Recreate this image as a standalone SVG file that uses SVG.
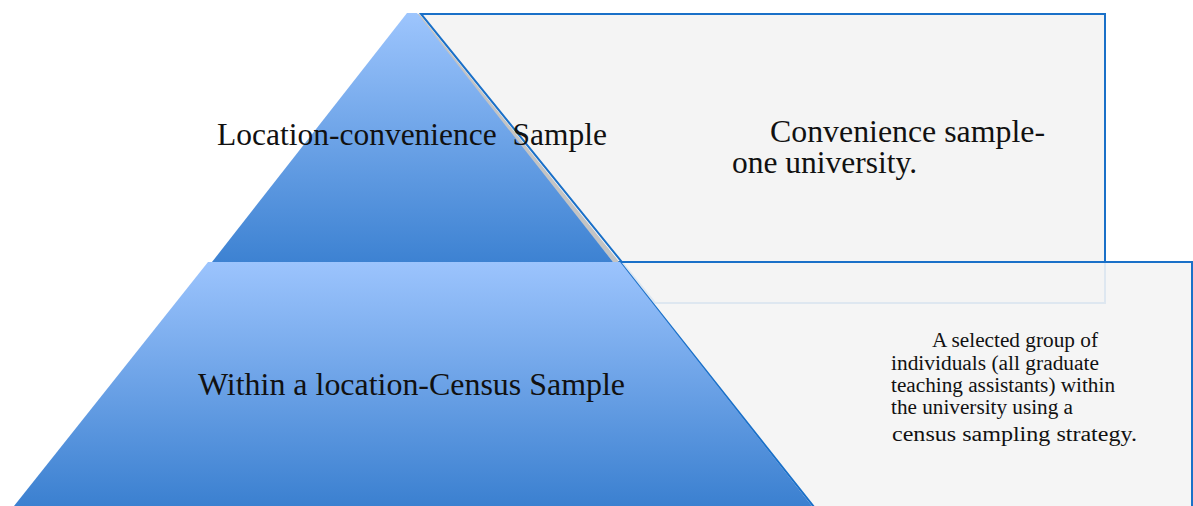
<svg xmlns="http://www.w3.org/2000/svg" width="1193" height="506" viewBox="0 0 1193 506">
  <style>
    .box { fill: #f4f4f4; stroke: #1a70c8; stroke-width: 2; }
    .big { font-family: "Liberation Serif", "Times New Roman", serif; font-size: 31px; fill: #111; }
    .small { font-family: "Liberation Serif", "Times New Roman", serif; font-size: 20px; fill: #111; }
  </style>
  <defs>
    <linearGradient id="gTop" x1="0" y1="13" x2="0" y2="262" gradientUnits="userSpaceOnUse">
      <stop offset="0" stop-color="#9dc5fd"/>
      <stop offset="1" stop-color="#3d82d2"/>
    </linearGradient>
    <linearGradient id="gBottom" x1="0" y1="262" x2="0" y2="506" gradientUnits="userSpaceOnUse">
      <stop offset="0" stop-color="#9cc4fd"/>
      <stop offset="1" stop-color="#3b80d0"/>
    </linearGradient>
  </defs>
  <rect width="1193" height="506" fill="#ffffff"/>

  <!-- description panel for the upper tier -->
  <g id="top-panel">
    <line x1="417" y1="15" x2="617" y2="263" stroke="#c4c4c4" stroke-width="5"/>
    <polygon class="box" points="421,14 1105,14 1105,303 655,303"/>
    <text class="big" x="770" y="142" textLength="275" lengthAdjust="spacingAndGlyphs">Convenience sample-</text>
    <text class="big" x="732" y="173" textLength="185" lengthAdjust="spacingAndGlyphs">one university.</text>
  </g>

  <!-- description panel for the lower tier -->
  <g id="bottom-panel">
    <polygon class="box" points="620,262 1192,262 1192,512 818,512" fill-opacity="0.9"/>
    <text class="small" x="932" y="347" textLength="166" lengthAdjust="spacingAndGlyphs">A selected group of</text>
    <text class="small" x="891" y="370" textLength="208" lengthAdjust="spacingAndGlyphs">individuals (all graduate</text>
    <text class="small" x="891" y="392" textLength="224" lengthAdjust="spacingAndGlyphs">teaching assistants) within</text>
    <text class="small" x="891" y="414" textLength="182" lengthAdjust="spacingAndGlyphs">the university using a</text>
    <text class="small" x="892" y="441" font-size="24" textLength="245" lengthAdjust="spacingAndGlyphs">census sampling strategy.</text>
  </g>

  <!-- pyramid tiers -->
  <g id="tier-top">
    <polygon points="407,13 417,13 613,262 212,262" fill="url(#gTop)"/>
    <text class="big" x="217" y="145" textLength="390" lengthAdjust="spacingAndGlyphs" xml:space="preserve">Location-convenience  Sample</text>
  </g>
  <g id="tier-bottom">
    <polygon points="208,262 620,262 812,506 14,506" fill="url(#gBottom)"/>
    <text class="big" x="198" y="395" textLength="427" lengthAdjust="spacingAndGlyphs">Within a location-Census Sample</text>
  </g>

  <g id="connectors"/>
</svg>
